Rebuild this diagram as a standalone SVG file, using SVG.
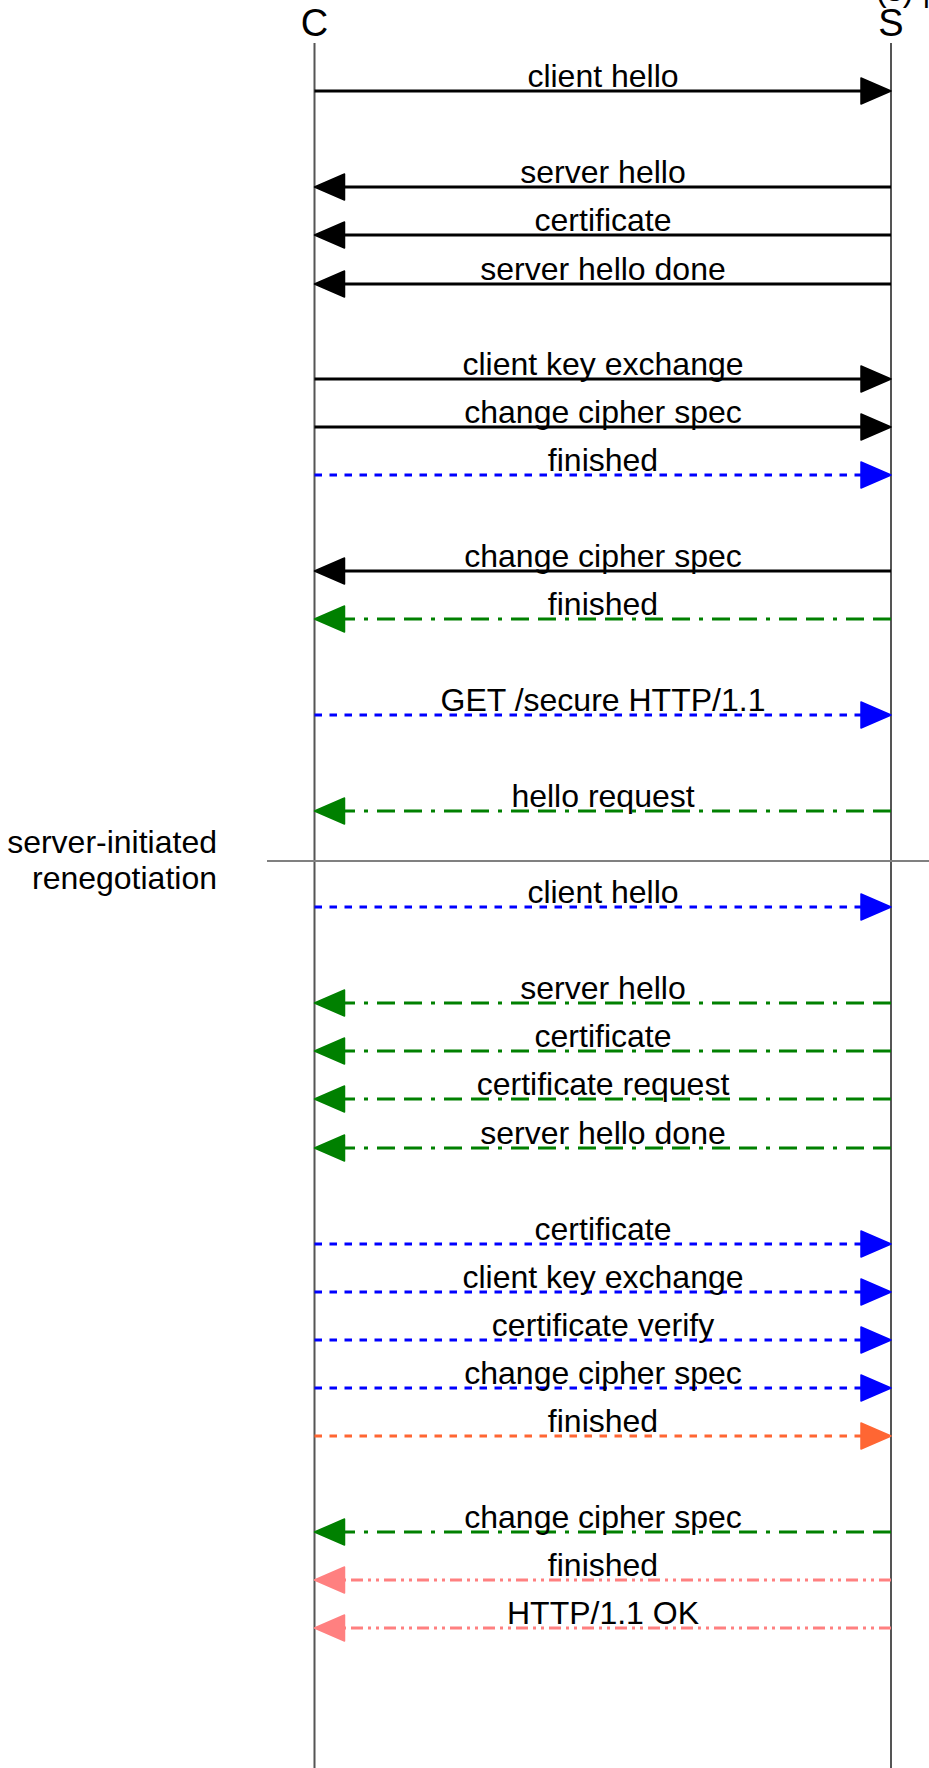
<svg xmlns="http://www.w3.org/2000/svg" width="929" height="1768" viewBox="0 0 929 1768">
<style>
text{font-family:"Liberation Sans",Arial,sans-serif;font-size:32px;fill:#000}
.lbl{text-anchor:middle}
.ttl{text-anchor:middle;font-size:38px}
.life{stroke:#555;stroke-width:2;fill:none}
.sep{stroke:#808080;stroke-width:2}
.m{fill:none;stroke-width:3}
.blk{stroke:#000}
.blu{stroke:#0000ff;stroke-dasharray:7.5 7.5}
.grn{stroke:#008000;stroke-dasharray:18 9 18 9 4 9}
.org{stroke:#ff6633;stroke-dasharray:7.5 7.5}
.pnk{stroke:#ff8080;stroke-dasharray:12 5 3 5 3 5}
</style>
<defs>
<marker id="aK" markerUnits="userSpaceOnUse" markerWidth="32" markerHeight="28" refX="0" refY="13" orient="auto" overflow="visible"><path d="M0,0 L30,13 L0,26 Z" fill="#000" stroke="#000" stroke-width="1.5" stroke-linejoin="round"/></marker>
<marker id="aB" markerUnits="userSpaceOnUse" markerWidth="32" markerHeight="28" refX="0" refY="13" orient="auto" overflow="visible"><path d="M0,0 L30,13 L0,26 Z" fill="#0000ff" stroke="#0000ff" stroke-width="1.5" stroke-linejoin="round"/></marker>
<marker id="aG" markerUnits="userSpaceOnUse" markerWidth="32" markerHeight="28" refX="0" refY="13" orient="auto" overflow="visible"><path d="M0,0 L30,13 L0,26 Z" fill="#008000" stroke="#008000" stroke-width="1.5" stroke-linejoin="round"/></marker>
<marker id="aO" markerUnits="userSpaceOnUse" markerWidth="32" markerHeight="28" refX="0" refY="13" orient="auto" overflow="visible"><path d="M0,0 L30,13 L0,26 Z" fill="#ff6633" stroke="#ff6633" stroke-width="1.5" stroke-linejoin="round"/></marker>
<marker id="aP" markerUnits="userSpaceOnUse" markerWidth="32" markerHeight="28" refX="0" refY="13" orient="auto" overflow="visible"><path d="M0,0 L30,13 L0,26 Z" fill="#ff8080" stroke="#ff8080" stroke-width="1.5" stroke-linejoin="round"/></marker>
</defs>
<rect width="929" height="1768" fill="#fff"/>

<g id="clip-title"><text x="876" y="1">(s) |</text></g>

<g id="client">
<text class="ttl" x="314.5" y="36">C</text>
<line class="life" x1="314.5" y1="43" x2="314.5" y2="1768"/>
</g>
<g id="server">
<text class="ttl" x="891" y="36">S</text>
<line class="life" x1="891" y1="43" x2="891" y2="1768"/>
</g>
<g id="renegotiation">
<line class="sep" x1="267" y1="861" x2="929" y2="861"/>
<text x="217" y="853" text-anchor="end">server-initiated</text>
<text x="217" y="889" text-anchor="end">renegotiation</text>
</g>

<g id="connectors">
<line class="m blk" x1="314.5" y1="91" x2="861" y2="91" marker-end="url(#aK)"/>
<line class="m blk" x1="891" y1="187" x2="344.5" y2="187" marker-end="url(#aK)"/>
<line class="m blk" x1="891" y1="235" x2="344.5" y2="235" marker-end="url(#aK)"/>
<line class="m blk" x1="891" y1="284" x2="344.5" y2="284" marker-end="url(#aK)"/>
<line class="m blk" x1="314.5" y1="379" x2="861" y2="379" marker-end="url(#aK)"/>
<line class="m blk" x1="314.5" y1="427" x2="861" y2="427" marker-end="url(#aK)"/>
<line class="m blu" x1="314.5" y1="475" x2="861" y2="475" marker-end="url(#aB)"/>
<line class="m blk" x1="891" y1="571" x2="344.5" y2="571" marker-end="url(#aK)"/>
<line class="m grn" x1="891" y1="619" x2="344.5" y2="619" marker-end="url(#aG)"/>
<line class="m blu" x1="314.5" y1="715" x2="861" y2="715" marker-end="url(#aB)"/>
<line class="m grn" x1="891" y1="811" x2="344.5" y2="811" marker-end="url(#aG)"/>
<line class="m blu" x1="314.5" y1="907" x2="861" y2="907" marker-end="url(#aB)"/>
<line class="m grn" x1="891" y1="1003" x2="344.5" y2="1003" marker-end="url(#aG)"/>
<line class="m grn" x1="891" y1="1051" x2="344.5" y2="1051" marker-end="url(#aG)"/>
<line class="m grn" x1="891" y1="1099" x2="344.5" y2="1099" marker-end="url(#aG)"/>
<line class="m grn" x1="891" y1="1148" x2="344.5" y2="1148" marker-end="url(#aG)"/>
<line class="m blu" x1="314.5" y1="1244" x2="861" y2="1244" marker-end="url(#aB)"/>
<line class="m blu" x1="314.5" y1="1292" x2="861" y2="1292" marker-end="url(#aB)"/>
<line class="m blu" x1="314.5" y1="1340" x2="861" y2="1340" marker-end="url(#aB)"/>
<line class="m blu" x1="314.5" y1="1388" x2="861" y2="1388" marker-end="url(#aB)"/>
<line class="m org" x1="314.5" y1="1436" x2="861" y2="1436" marker-end="url(#aO)"/>
<line class="m grn" x1="891" y1="1532" x2="344.5" y2="1532" marker-end="url(#aG)"/>
<line class="m pnk" x1="891" y1="1580" x2="344.5" y2="1580" marker-end="url(#aP)"/>
<line class="m pnk" x1="891" y1="1628" x2="344.5" y2="1628" marker-end="url(#aP)"/>
</g>

<g id="labels">
<text class="lbl" x="603" y="87">client hello</text>
<text class="lbl" x="603" y="183">server hello</text>
<text class="lbl" x="603" y="231">certificate</text>
<text class="lbl" x="603" y="280">server hello done</text>
<text class="lbl" x="603" y="375">client key exchange</text>
<text class="lbl" x="603" y="423">change cipher spec</text>
<text class="lbl" x="603" y="471">finished</text>
<text class="lbl" x="603" y="567">change cipher spec</text>
<text class="lbl" x="603" y="615">finished</text>
<text class="lbl" x="603" y="711">GET /secure HTTP/1.1</text>
<text class="lbl" x="603" y="807">hello request</text>
<text class="lbl" x="603" y="903">client hello</text>
<text class="lbl" x="603" y="999">server hello</text>
<text class="lbl" x="603" y="1047">certificate</text>
<text class="lbl" x="603" y="1095">certificate request</text>
<text class="lbl" x="603" y="1144">server hello done</text>
<text class="lbl" x="603" y="1240">certificate</text>
<text class="lbl" x="603" y="1288">client key exchange</text>
<text class="lbl" x="603" y="1336">certificate verify</text>
<text class="lbl" x="603" y="1384">change cipher spec</text>
<text class="lbl" x="603" y="1432">finished</text>
<text class="lbl" x="603" y="1528">change cipher spec</text>
<text class="lbl" x="603" y="1576">finished</text>
<text class="lbl" x="603" y="1624">HTTP/1.1 OK</text>
</g>
</svg>
